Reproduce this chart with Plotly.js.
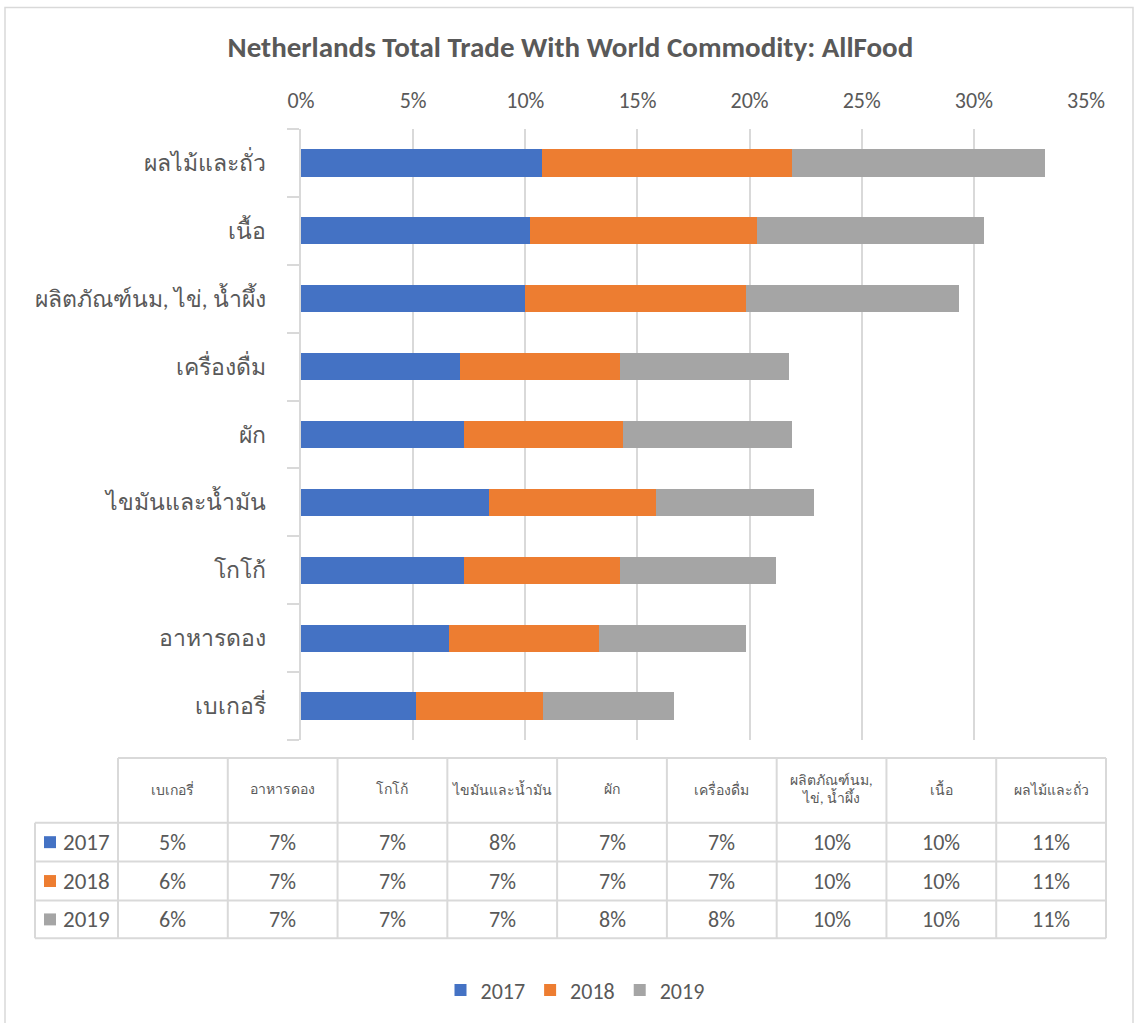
<!DOCTYPE html>
<html>
<head>
<meta charset="utf-8">
<script src="https://cdn.plot.ly/plotly-3.0.1.min.js"></script>
<style>html,body{margin:0;padding:0;background:#fff;}#chart{width:1134px;height:1023px;}</style>
</head>
<body>
<div id="chart"></div>
<script>
// ---- data ----
var categories = ['เบเกอรี่','อาหารดอง','โกโก้','ไขมันและน้ำมัน','ผัก','เครื่องดื่ม','ผลิตภัณฑ์นม, ไข่, น้ำผึ้ง','เนื้อ','ผลไม้และถั่ว'];
var headerLabels = ['เบเกอรี่','อาหารดอง','โกโก้','ไขมันและน้ำมัน','ผัก','เครื่องดื่ม','ผลิตภัณฑ์นม,<br>ไข่, น้ำผึ้ง','เนื้อ','ผลไม้และถั่ว'];
var seriesNames = ['2017','2018','2019'];
var v2017 = [0.0512,0.0659,0.0726,0.0837,0.0726,0.0708,0.0998,0.1020,0.1073];
var v2018 = [0.0566,0.0668,0.0695,0.0744,0.0708,0.0713,0.0984,0.1011,0.1114];
var v2019 = [0.0584,0.0655,0.0699,0.0708,0.0757,0.0757,0.0953,0.1016,0.1131];
var xTickVals = [0,0.05,0.10,0.15,0.20,0.25,0.30,0.35];

// ---- styles ----
var colors = ['#4472C4','#ED7D31','#A5A5A5'];
var txt = '#595959';
var grid = '#D9D9D9';
var FONT = 'Carlito, Calibri, Lato, "Noto Sans", sans-serif';

var W = 1134, H = 1023;
var M = {l:301, r:48, t:129, b:281};
var PW = W - M.l - M.r, PH = H - M.t - M.b;
function px(x){ return (x - M.l) / PW; }
function py(y){ return 1 - (y - M.t) / PH; }

var series = [v2017, v2018, v2019];
var traces = series.map(function(v, i){
  return {type:'bar', orientation:'h', name:seriesNames[i], y:categories, x:v,
          marker:{color:colors[i], line:{width:0}}, hoverinfo:'x+y+name'};
});

// ---- table geometry ----
var colEdges = [];
for (var k = 0; k <= categories.length; k++) colEdges.push(118 + k * (1106 - 118) / categories.length);
var rowEdges = [760, 825, 864, 903, 941];
var shapes = [], annotations = [];
var ln = {color:grid, width:2};
shapes.push({type:'line', xref:'paper', yref:'paper', x0:px(118), x1:px(1106), y0:py(760), y1:py(760), line:ln});
for (var r = 1; r < rowEdges.length; r++) {
  shapes.push({type:'line', xref:'paper', yref:'paper', x0:px(35), x1:px(1106), y0:py(rowEdges[r]), y1:py(rowEdges[r]), line:ln});
}
shapes.push({type:'line', xref:'paper', yref:'paper', x0:px(35), x1:px(35), y0:py(825), y1:py(941), line:ln});
colEdges.forEach(function(xe){
  shapes.push({type:'line', xref:'paper', yref:'paper', x0:px(xe), x1:px(xe), y0:py(760), y1:py(941), line:ln});
});
headerLabels.forEach(function(h, c){
  annotations.push({xref:'paper', yref:'paper', x:px((colEdges[c]+colEdges[c+1])/2), y:py(792),
    text:h, showarrow:false, xanchor:'center', yanchor:'middle', font:{family:FONT, size:14, color:txt}});
});
series.forEach(function(v, s){
  var yc = (rowEdges[s+1] + rowEdges[s+2]) / 2;
  shapes.push({type:'rect', xref:'paper', yref:'paper', x0:px(44), x1:px(56), y0:py(yc-6), y1:py(yc+6),
    fillcolor:colors[s], line:{width:0}});
  annotations.push({xref:'paper', yref:'paper', x:px(61), y:py(yc), text:seriesNames[s], showarrow:false,
    xanchor:'left', yanchor:'middle', font:{family:FONT, size:23, color:txt}});
  v.forEach(function(val, c){
    annotations.push({xref:'paper', yref:'paper', x:px((colEdges[c]+colEdges[c+1])/2), y:py(yc),
      text:Math.round(val*100)+'%', showarrow:false, xanchor:'center', yanchor:'middle',
      font:{family:FONT, size:22, color:txt}});
  });
});
shapes.push({type:'rect', xref:'paper', yref:'paper', x0:px(5), x1:px(1133), y0:py(7), y1:py(1040),
  line:{color:grid, width:1.5}, fillcolor:'rgba(0,0,0,0)', layer:'below'});

var layout = {
  width:W, height:H, margin:M,
  paper_bgcolor:'#fff', plot_bgcolor:'#fff',
  barmode:'stack', bargap:0.6,
  font:{family:FONT, color:txt},
  title:{text:'<b>Netherlands Total Trade With World Commodity: AllFood</b>', font:{family:FONT, size:29, color:txt},
         xref:'container', yref:'container', x:0.503, xanchor:'center', y:1-47/H, yanchor:'middle'},
  xaxis:{side:'top', range:[0,0.35], tickvals:xTickVals, tickformat:'.0%', showgrid:true, gridcolor:grid, gridwidth:1.5,
         zeroline:false, showline:false, ticks:'', tickfont:{family:FONT, size:22, color:txt}, ticklabelstandoff:16, fixedrange:true},
  yaxis:{type:'category', tickson:'boundaries', ticks:'outside', ticklen:12, tickcolor:grid, tickwidth:1.5,
         showline:true, linecolor:grid, linewidth:1.5, showgrid:false, zeroline:false,
         tickfont:{family:FONT, size:23, color:txt}, ticklabelstandoff:29, fixedrange:true},
  legend:{orientation:'h', x:px(575), xanchor:'center', y:py(993), yanchor:'middle',
          font:{family:FONT, size:22, color:txt}, traceorder:'normal', itemclick:false},
  shapes:shapes, annotations:annotations
};

Plotly.newPlot('chart', traces, layout, {displayModeBar:false, responsive:false});
</script>
</body>
</html>
